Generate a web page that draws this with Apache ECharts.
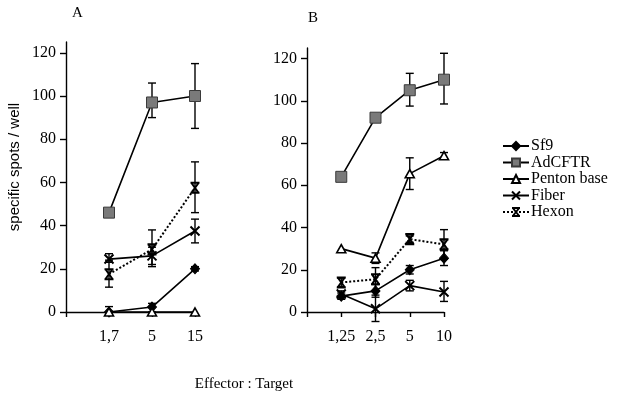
<!DOCTYPE html>
<html>
<head>
<meta charset="utf-8">
<script src="https://cdn.jsdelivr.net/npm/echarts@6/dist/echarts.min.js"></script>
<style>
html,body{margin:0;padding:0;background:#fff;}
#chart{width:622px;height:405px;}
</style>
</head>
<body>
<div id="chart"></div>
<script>
// ---------- Data ----------
var seriesNames = ['Sf9', 'AdCFTR', 'Penton base', 'Fiber', 'Hexon'];

// Panel A
var catsA = ['1,7', '5', '15'];
var sf9A = [0, 2.3, 20];
var adcftrA = [46, 97, 100];
var pentonA = [0, 0, 0];
var fiberA = [24.5, 26, 37.5];
var hexonA = [17.5, 29, 57.5];
var sf9AErr = [null, [0, 4], [19, 21]];
var adcftrAErr = [null, [90, 106], [85, 115]];
var pentonAErr = [[-1, 2.5], null, null];
var fiberAErr = [[23, 27], [21, 30], [32, 43]];
var hexonAErr = [[11.5, 24], [22, 38], [46, 69.5]];

// Panel B
var catsB = ['1,25', '2,5', '5', '10'];
var sf9B = [7.5, 10, 20, 25.5];
var adcftrB = [64, 92, 105, 110];
var pentonB = [30, 25.5, 65.5, 74];
var fiberB = [8.5, 1.5, 12.5, 9.5];
var hexonB = [14, 15.5, 34.5, 32];
var sf9BErr = [[6, 9], [7, 13], [18, 22], [22, 29]];
var adcftrBErr = [null, null, [97.5, 113], [98.5, 122.5]];
var pentonBErr = [null, [23, 28], [58, 73], [72.5, 75.5]];
var fiberBErr = [[7, 10], [-4.5, 8], [10, 15], [5, 14.5]];
var hexonBErr = [[12, 16], [10, 21], [33, 36], [25, 39]];

var yTicks = [0, 20, 40, 60, 80, 100, 120];

// ---------- Styles ----------
var serif = 'Liberation Serif';
var styles = {
  'Sf9': {symbol: 'diamond', symbolSize: [9, 10], itemStyle: {color: '#000', borderColor: '#000', borderWidth: 1}, lineType: 'solid'},
  'AdCFTR': {symbol: 'rect', symbolSize: 11, itemStyle: {color: '#7a7a7a', borderColor: '#3a3a3a', borderWidth: 1}, lineType: 'solid'},
  'Penton base': {symbol: 'triangle', symbolSize: [9, 8], itemStyle: {color: '#fff', borderColor: '#000', borderWidth: 1.6}, lineType: 'solid'},
  'Fiber': {symbol: 'path://M0,0 L10,10 M10,0 L0,10', symbolSize: 9, itemStyle: {color: 'none', borderColor: '#000', borderWidth: 2}, lineType: 'solid'},
  'Hexon': {symbol: 'path://M0,0 L10,0 M0,10 L10,10 M1,0 L9,10 M9,0 L1,10', symbolSize: [9, 10], itemStyle: {color: 'none', borderColor: '#000', borderWidth: 2}, lineType: 'dotted'}
};

function pts(vals) { return vals.map(function (v, i) { return [i + 1, v]; }); }
function errPts(errs) {
  var out = [];
  errs.forEach(function (e, i) { if (e) out.push([i + 1, e[0], e[1]]); });
  return out;
}

function lineSeries(name, vals, idx) {
  var s = styles[name];
  return {
    name: name, type: 'line', xAxisIndex: idx, yAxisIndex: idx,
    data: pts(vals), symbol: s.symbol, symbolSize: s.symbolSize,
    itemStyle: s.itemStyle, z: 5,
    lineStyle: {color: '#000', width: s.lineType === 'dotted' ? 2 : 1.6, type: s.lineType},
    emphasis: {disabled: true}, animation: false
  };
}
function errSeries(errs, idx) {
  return {
    type: 'custom', xAxisIndex: idx, yAxisIndex: idx, data: errPts(errs), z: 3, silent: true, animation: false,
    renderItem: function (params, api) {
      var x = api.value(0);
      var lo = api.coord([x, api.value(1)]);
      var hi = api.coord([x, api.value(2)]);
      var w = 4;
      var st = {stroke: '#000', lineWidth: 1.4};
      return {type: 'group', children: [
        {type: 'line', shape: {x1: lo[0], y1: lo[1], x2: hi[0], y2: hi[1]}, style: st},
        {type: 'line', shape: {x1: lo[0] - w, y1: lo[1], x2: lo[0] + w, y2: lo[1]}, style: st},
        {type: 'line', shape: {x1: hi[0] - w, y1: hi[1], x2: hi[0] + w, y2: hi[1]}, style: st}
      ]};
    }
  };
}

function xAxis(cats, idx) {
  return {
    type: 'value', gridIndex: idx, min: 0, max: cats.length, interval: 1,
    axisLine: {lineStyle: {color: '#000', width: 1.4}},
    axisTick: {show: true, length: 5, lineStyle: {color: '#000', width: 1.4}},
    splitLine: {show: false},
    axisLabel: {margin: 17, color: '#000', fontFamily: serif, fontSize: 16, showMinLabel: true,
      formatter: function (v) { return v === 0 ? '' : cats[v - 1]; }}
  };
}
function yAxis(idx) {
  return {
    type: 'value', gridIndex: idx, min: 0, max: 125, interval: 20,
    axisLine: {show: true, lineStyle: {color: '#000', width: 1.4}},
    axisTick: {show: true, length: 6, lineStyle: {color: '#000', width: 1.4},
      customValues: yTicks},
    splitLine: {show: false},
    axisLabel: {margin: 10, color: '#000', fontFamily: serif, fontSize: 16, customValues: yTicks}
  };
}

var series = [];
var A = [sf9A, adcftrA, pentonA, fiberA, hexonA];
var AE = [sf9AErr, adcftrAErr, pentonAErr, fiberAErr, hexonAErr];
var B = [sf9B, adcftrB, pentonB, fiberB, hexonB];
var BE = [sf9BErr, adcftrBErr, pentonBErr, fiberBErr, hexonBErr];
for (var i = 0; i < seriesNames.length; i++) {
  series.push(errSeries(AE[i], 0));
  series.push(errSeries(BE[i], 1));
}
for (var j = 0; j < seriesNames.length; j++) {
  series.push(lineSeries(seriesNames[j], A[j], 0));
  series.push(lineSeries(seriesNames[j], B[j], 1));
}

var chart = echarts.init(document.getElementById('chart'), null, {renderer: 'canvas'});
chart.setOption({
  animation: false,
  backgroundColor: '#fff',
  grid: [
    {left: 66, top: 42, width: 129, height: 270},
    {left: 307, top: 48, width: 137, height: 264}
  ],
  xAxis: [xAxis(catsA, 0), xAxis(catsB, 1)],
  yAxis: [yAxis(0), yAxis(1)],
  legend: {
    data: seriesNames, orient: 'vertical', left: 502, top: 138, padding: 0,
    itemWidth: 26, itemHeight: 10, itemGap: 0.5,
    textStyle: {fontFamily: serif, fontSize: 16, lineHeight: 15, color: '#000', padding: [0, 0, 0, -3]},
    selectedMode: false
  },
  graphic: [
    {type: 'text', left: 72, top: 6, style: {text: 'A', font: '15px "Liberation Serif"', fill: '#000'}},
    {type: 'text', left: 308, top: 11, style: {text: 'B', font: '15px "Liberation Serif"', fill: '#000'}},
    {type: 'text', x: 15, y: 167, rotation: Math.PI / 2,
      style: {text: 'specific spots / well', font: '15px "Liberation Sans"', fill: '#000', align: 'center', verticalAlign: 'middle'}},
    {type: 'text', x: 244, y: 384, style: {text: 'Effector : Target', font: '15px "Liberation Serif"', fill: '#000', align: 'center', verticalAlign: 'middle'}}
  ],
  series: series
});
</script>
</body>
</html>
